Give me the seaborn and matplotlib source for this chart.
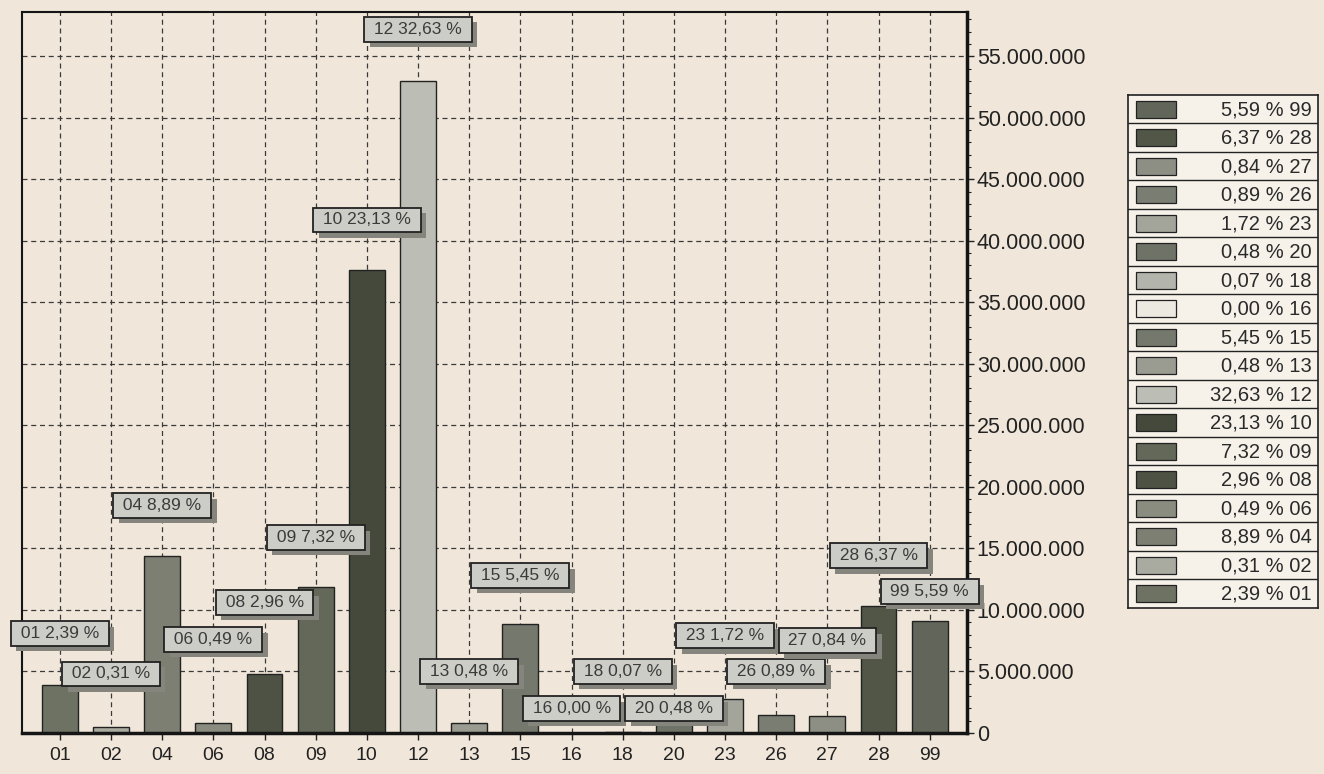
import matplotlib
matplotlib.use("Agg")
import matplotlib.pyplot as plt
import matplotlib.ticker as mticker
import matplotlib.patheffects as pe
from matplotlib.patches import Rectangle
import seaborn as sns
import pandas as pd

# categories and values
codes = ["01", "02", "04", "06", "08", "09", "10", "12", "13",
         "15", "16", "18", "20", "23", "26", "27", "28", "99"]
values = [3.9e6, 0.5e6, 14.4e6, 0.8e6, 4.8e6, 11.9e6, 37.6e6, 53.0e6, 0.78e6,
          8.85e6, 0.0, 0.11e6, 0.78e6, 2.8e6, 1.45e6, 1.37e6, 10.35e6, 9.08e6]
percents = ["2,39", "0,31", "8,89", "0,49", "2,96", "7,32", "23,13", "32,63", "0,48",
            "5,45", "0,00", "0,07", "0,48", "1,72", "0,89", "0,84", "6,37", "5,59"]

# layout: where each callout box sits (in axis units)
label_y = [8.1e6, 4.8e6, 18.5e6, 7.6e6, 10.6e6, 15.9e6, 41.7e6, 57.2e6, 5.0e6,
           12.8e6, 2.0e6, 5.0e6, 2.0e6, 7.9e6, 5.0e6, 7.5e6, 14.4e6, 11.5e6]

colors = ["#6e7263", "#a9aba0", "#7c7f72", "#8a8c80", "#4e5244", "#646858",
          "#45493b", "#bcbdb5", "#9a9c92", "#75786c", "#ece9e0", "#b3b4ab",
          "#6f7266", "#a3a59b", "#7a7d71", "#8d8f85", "#525647", "#62665a"]

paper = "#f0e7da"

sns.set_theme(style="ticks")
plt.rcParams["font.family"] = ["Liberation Sans", "DejaVu Sans"]

df = pd.DataFrame({"code": codes, "value": values})

fig = plt.figure(figsize=(13.24, 7.74), dpi=100, facecolor=paper)
ax = fig.add_axes([0.0166, 0.053, 0.7138, 0.9315], facecolor=paper)

sns.barplot(data=df, x="code", y="value", hue="code", order=codes,
            palette=dict(zip(codes, colors)), legend=False, width=0.7,
            edgecolor="#222222", linewidth=1.0, saturation=1, ax=ax)

ax.set_xlim(-0.74, len(codes) - 0.27)
ax.set_ylim(0, 58.6e6)
ax.set_xlabel("")
ax.set_ylabel("")

# y axis on the right, dotted thousand separators
ax.yaxis.tick_right()
ax.yaxis.set_major_locator(mticker.MultipleLocator(5e6))
ax.yaxis.set_minor_locator(mticker.MultipleLocator(1e6))
ax.yaxis.set_major_formatter(
    mticker.FuncFormatter(lambda v, p: f"{int(round(v)):,}".replace(",", ".")))
ax.tick_params(axis="y", which="major", labelsize=15.5, length=5, width=1,
               colors="#222222", pad=2)
ax.tick_params(axis="y", which="minor", length=3, width=0.8, color="#222222")
ax.tick_params(axis="x", which="major", labelsize=14, length=5, width=1,
               colors="#222222", pad=5)

ax.grid(True, axis="both", linestyle=(0, (4, 3)), color="#3a3a3a", linewidth=0.9)
ax.set_axisbelow(True)

for side, lw in [("left", 1.5), ("top", 1.5), ("bottom", 2.5), ("right", 2.5)]:
    ax.spines[side].set_visible(True)
    ax.spines[side].set_color("#151515")
    ax.spines[side].set_linewidth(lw)

# callout boxes with drop shadow
shadow = [pe.withSimplePatchShadow(offset=(4, -4), shadow_rgbFace="#85857e", alpha=1)]
for i, (c, pct, ly) in enumerate(zip(codes, percents, label_y)):
    t = ax.text(i, ly, f" {c} {pct} % ", ha="center", va="center",
                fontsize=12.5, color="#3a3a3a", zorder=6,
                bbox=dict(boxstyle="square,pad=0.28", fc="#cdcdc8", ec="#222222",
                          lw=1.3))
    t.get_bbox_patch().set_path_effects(shadow)

# legend table on the right, listed from last code to first
lax = fig.add_axes([0.852, 0.2145, 0.1435, 0.663], facecolor="#f6f2ea")
n = len(codes)
lax.set_xlim(0, 1)
lax.set_ylim(0, n)
lax.set_xticks([])
lax.set_yticks([])
for s in lax.spines.values():
    s.set_color("#222222")
    s.set_linewidth(1.2)
for row, idx in enumerate(reversed(range(n))):
    y0 = n - row - 1
    if row > 0:
        lax.axhline(y0 + 1, color="#222222", linewidth=1.0)
    lax.add_patch(Rectangle((0.04, y0 + 0.2), 0.21, 0.6, facecolor=colors[idx],
                            edgecolor="#222222", linewidth=0.9))
    lax.text(0.965, y0 + 0.48, f"{percents[idx]} % {codes[idx]}", ha="right",
             va="center", fontsize=14.5, color="#2a2a2a")

fig.savefig("out.png", dpi=100, facecolor=paper)
